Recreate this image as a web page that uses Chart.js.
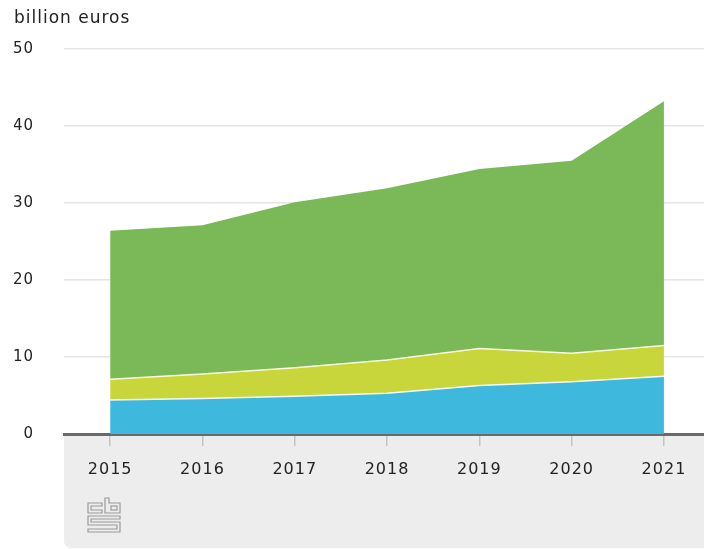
<!DOCTYPE html>
<html>
<head>
<meta charset="utf-8">
<script src="https://cdn.jsdelivr.net/npm/chart.js@4"></script>
<style>
  html, body { margin: 0; padding: 0; background: #fff; overflow: hidden; }
</style>
</head>
<body>
<canvas id="chart" width="704" height="549"></canvas>
<script>
const years = [2015, 2016, 2017, 2018, 2019, 2020, 2021];
const blueValues = [4.4, 4.6, 4.9, 5.3, 6.3, 6.8, 7.5];
const yellowValues = [2.7, 3.2, 3.7, 4.3, 4.8, 3.7, 4.0];
const greenValues = [19.3, 19.3, 21.5, 22.3, 23.3, 25.0, 31.7];
const yTicks = [0, 10, 20, 30, 40, 50];

const toPoints = (vals) => vals.map((v, i) => ({ x: years[i], y: v }));

const textColor = "#222";
const fontFamily = "'DejaVu Sans', sans-serif";

// letter spacing gets reset when the canvas is resized, so set it again
const spacing = {
  id: "spacing",
  beforeLayout(chart) { chart.ctx.letterSpacing = "1px"; },
  beforeDraw(chart) { chart.ctx.letterSpacing = "1px"; },
};

// grey panel under the x axis and the little cbs mark
const footer = {
  id: "footer",
  beforeDraw(chart) {
    const { ctx, chartArea } = chart;
    ctx.save();
    ctx.fillStyle = "#ededed";
    ctx.beginPath();
    ctx.roundRect(chartArea.left, chartArea.bottom, chart.width - chartArea.left + 10,
      chart.height - chartArea.bottom - 1, [0, 0, 7, 7]);
    ctx.fill();
    ctx.restore();
  },
  afterDraw(chart) {
    const { ctx } = chart;
    ctx.save();
    ctx.strokeStyle = "#9a9a9a";
    ctx.lineWidth = 1.2;
    ctx.lineJoin = "miter";
    // c
    ctx.beginPath();
    ctx.moveTo(102, 503); ctx.lineTo(88, 503); ctx.lineTo(88, 513); ctx.lineTo(102, 513);
    ctx.lineTo(102, 510); ctx.lineTo(91, 510); ctx.lineTo(91, 506); ctx.lineTo(102, 506);
    ctx.closePath();
    ctx.stroke();
    // b
    ctx.beginPath();
    ctx.moveTo(105, 498); ctx.lineTo(109, 498); ctx.lineTo(109, 503); ctx.lineTo(120, 503);
    ctx.lineTo(120, 513); ctx.lineTo(105, 513);
    ctx.closePath();
    ctx.stroke();
    ctx.strokeRect(111, 506, 6, 4);
    // s
    ctx.beginPath();
    ctx.moveTo(88, 516); ctx.lineTo(120, 516); ctx.lineTo(120, 519); ctx.lineTo(91, 519);
    ctx.lineTo(91, 522); ctx.lineTo(120, 522); ctx.lineTo(120, 532); ctx.lineTo(88, 532);
    ctx.lineTo(88, 529); ctx.lineTo(117, 529); ctx.lineTo(117, 525); ctx.lineTo(88, 525);
    ctx.closePath();
    ctx.stroke();
    ctx.restore();
  },
};

new Chart(document.getElementById("chart"), {
  type: "line",
  data: {
    datasets: [
      {
        data: toPoints(blueValues),
        backgroundColor: "#3eb8dc",
        borderColor: "rgba(255,255,255,0.9)",
        borderWidth: 1.5,
        fill: "origin",
        pointRadius: 0,
        tension: 0,
      },
      {
        data: toPoints(yellowValues),
        backgroundColor: "#c9d63b",
        borderColor: "rgba(255,255,240,0.9)",
        borderWidth: 1.5,
        fill: "-1",
        pointRadius: 0,
        tension: 0,
      },
      {
        data: toPoints(greenValues),
        backgroundColor: "#7bb857",
        borderColor: "#7bb857",
        borderWidth: 0,
        fill: "-1",
        pointRadius: 0,
        tension: 0,
      },
    ],
  },
  options: {
    responsive: false,
    animation: false,
    layout: { padding: { left: 14, right: 0, top: 0, bottom: 0 } },
    plugins: {
      legend: { display: false },
      tooltip: { enabled: false },
      title: {
        display: true,
        text: "billion euros",
        align: "start",
        color: textColor,
        font: { family: fontFamily, size: 17, weight: "normal" },
        padding: { top: 8, bottom: 20.6 },
      },
    },
    scales: {
      x: {
        type: "linear",
        min: 2014.5,
        max: 2014.5 + 640 / 92.3,
        z: 1,
        afterBuildTicks: (scale) => { scale.ticks = years.map((v) => ({ value: v })); },
        afterFit: (scale) => { scale.height = 115; },
        border: { display: true, color: "#6a6a6a", width: 3 },
        grid: {
          display: true,
          drawOnChartArea: false,
          drawTicks: true,
          tickLength: 12,
          color: "#c4c4c4",
          lineWidth: 1.5,
        },
        ticks: {
          color: textColor,
          padding: 14,
          maxRotation: 0,
          autoSkip: false,
          font: { family: fontFamily, size: 16 },
          callback: (v) => String(v),
        },
      },
      y: {
        stacked: true,
        min: 0,
        max: 50,
        z: 1,
        afterBuildTicks: (scale) => { scale.ticks = yTicks.map((v) => ({ value: v })); },
        afterFit: (scale) => { scale.width = 50; },
        border: { display: false },
        grid: { color: "rgba(0,0,0,0.1)", lineWidth: 1.5, drawTicks: false },
        ticks: {
          color: textColor,
          padding: 30,
          font: { family: fontFamily, size: 15 },
        },
      },
    },
  },
  plugins: [spacing, footer],
});
</script>
</body>
</html>
